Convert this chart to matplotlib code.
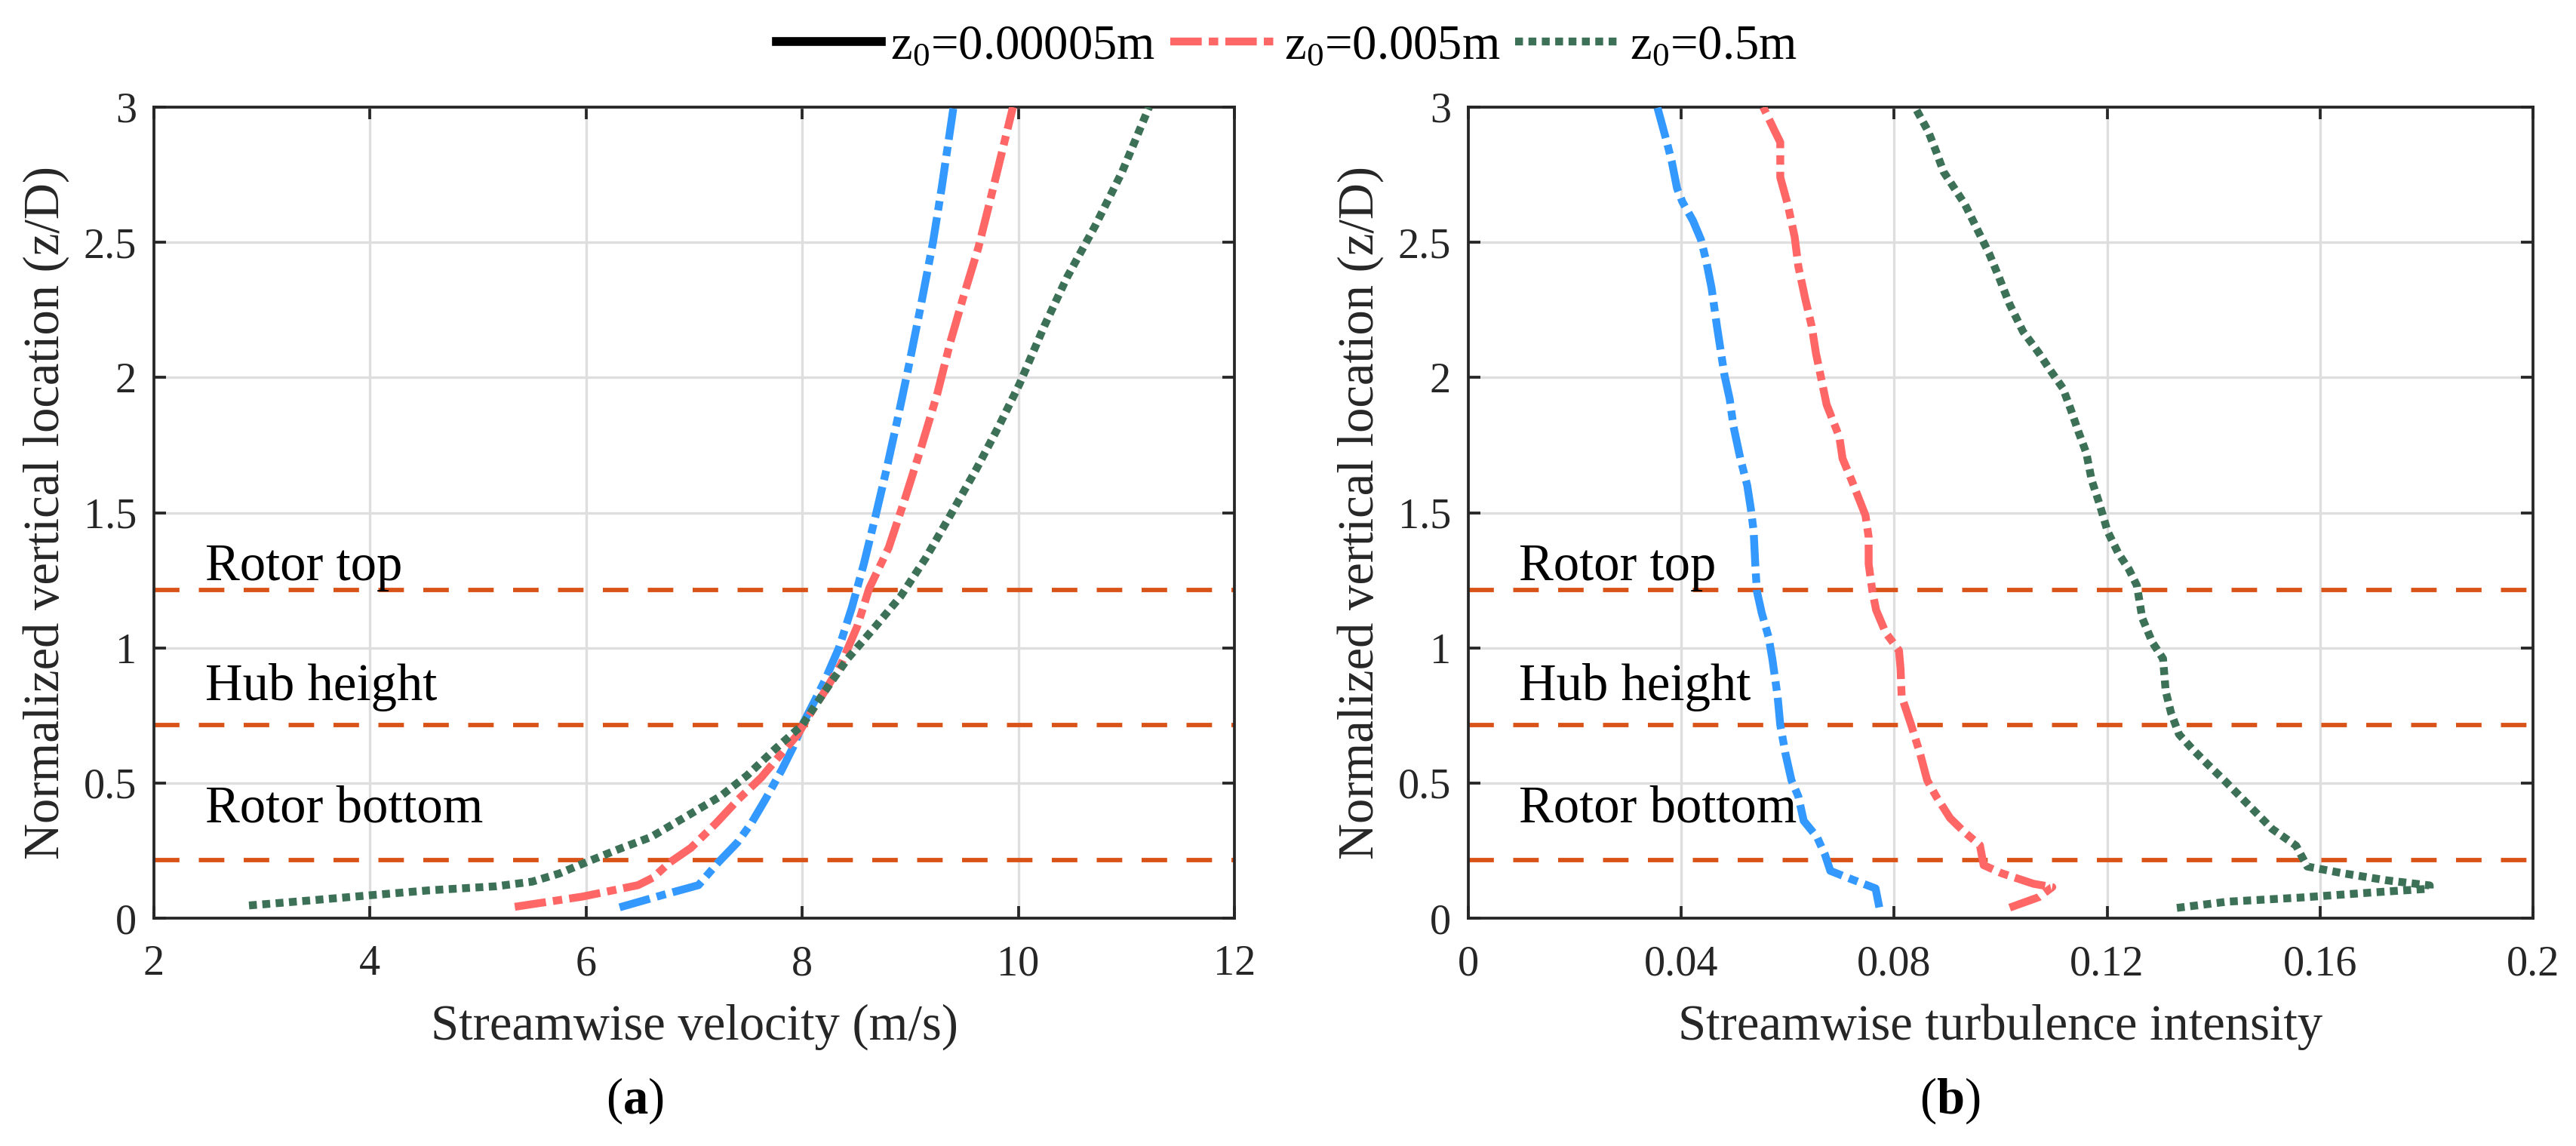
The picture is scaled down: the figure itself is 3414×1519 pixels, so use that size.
import matplotlib
matplotlib.use('Agg')
import matplotlib.pyplot as plt
from matplotlib.lines import Line2D

plt.rcParams['font.family'] = 'serif'
plt.rcParams['font.serif'] = ['Liberation Serif', 'Times New Roman', 'DejaVu Serif']
plt.rcParams['mathtext.fontset'] = 'custom'
plt.rcParams['mathtext.rm'] = 'Liberation Serif'
plt.rcParams['mathtext.bf'] = 'Liberation Serif:bold'
plt.rcParams['mathtext.it'] = 'Liberation Serif:italic'

# ---- data ----
LEGEND_LABELS = [r'$\mathrm{z_0}$=0.00005m', r'$\mathrm{z_0}$=0.005m', r'$\mathrm{z_0}$=0.5m']

# (a) streamwise velocity (m/s) vs z/D
vel_z1 = [0.04, 0.088, 0.122, 0.205, 0.28, 0.352, 0.44, 0.548, 0.636, 0.714, 0.80, 0.88, 1.0,
          1.15, 1.31, 1.49, 1.66, 1.86, 2.05, 2.27, 2.50, 2.70, 3.0]
vel_u1 = [6.31, 6.73, 7.04, 7.22, 7.40, 7.53, 7.66, 7.81, 7.92, 8.0, 8.11, 8.21, 8.34,
          8.46, 8.57, 8.68, 8.78, 8.89, 8.99, 9.10, 9.21, 9.29, 9.40]

vel_z2 = [0.042, 0.08, 0.122, 0.15, 0.205, 0.26, 0.35, 0.44, 0.52, 0.61, 0.68, 0.76, 0.84, 0.94,
          1.08, 1.22, 1.37, 1.55, 1.74, 1.94, 2.13, 2.31, 2.48, 2.64, 2.82, 3.0]
vel_u2 = [5.34, 5.97, 6.48, 6.62, 6.77, 6.97, 7.20, 7.41, 7.62, 7.81, 7.96, 8.08, 8.21, 8.36,
          8.51, 8.62, 8.80, 8.95, 9.10, 9.25, 9.37, 9.50, 9.63, 9.73, 9.84, 9.95]

vel_z3 = [0.047, 0.065, 0.085, 0.103, 0.118, 0.135, 0.165, 0.21, 0.255, 0.30, 0.37, 0.45, 0.528,
          0.626, 0.714, 0.84, 0.96, 1.08, 1.19, 1.33, 1.49, 1.66, 1.82, 1.975, 2.19, 2.37, 2.56,
          2.76, 3.0]
vel_u3 = [2.88, 3.43, 4.01, 4.55, 5.17, 5.50, 5.75, 6.02, 6.30, 6.60, 6.90, 7.24, 7.49,
          7.75, 8.0, 8.21, 8.42, 8.68, 8.91, 9.14, 9.37, 9.61, 9.82, 10.01, 10.24, 10.45, 10.71,
          10.96, 11.21]

# (b) streamwise turbulence intensity vs z/D
ti_z1 = [0.04, 0.11, 0.14, 0.175, 0.235, 0.30, 0.36, 0.45, 0.51, 0.606, 0.714, 0.82, 0.96, 1.04,
         1.13, 1.21, 1.31, 1.43, 1.51, 1.60, 1.70, 1.82, 1.92, 2.01, 2.19, 2.33, 2.43, 2.51,
         2.58, 2.65, 2.70, 2.80, 2.87, 3.0]
ti_i1 = [0.0772, 0.0765, 0.0725, 0.068, 0.067, 0.0655, 0.063, 0.062, 0.0607, 0.0596, 0.0586,
         0.0581, 0.0571, 0.0564, 0.0551, 0.0542, 0.0539, 0.0536, 0.0531, 0.0524, 0.0511, 0.0498,
         0.0491, 0.0481, 0.0467, 0.0457, 0.0447, 0.0437, 0.0422, 0.0402, 0.0392, 0.0382, 0.0373,
         0.0355]

ti_z2 = [0.039, 0.078, 0.115, 0.127, 0.166, 0.196, 0.27, 0.32, 0.37, 0.45, 0.51, 0.606, 0.714,
         0.82, 0.92, 0.99, 1.056, 1.14, 1.21, 1.31, 1.41, 1.49, 1.545, 1.62, 1.70, 1.78, 1.84,
         1.90, 1.995, 2.09, 2.19, 2.29, 2.41, 2.52, 2.64, 2.74, 2.87, 2.91, 3.0]
ti_i2 = [0.1017, 0.1072, 0.1097, 0.1062, 0.1002, 0.0968, 0.0961, 0.0931, 0.0905, 0.0879, 0.0862,
         0.0849, 0.0832, 0.0814, 0.0812, 0.0809, 0.0784, 0.0766, 0.0759, 0.0752, 0.0752, 0.0746,
         0.0735, 0.072, 0.0703, 0.0697, 0.0685, 0.0673, 0.0663, 0.0653, 0.0645, 0.0633, 0.062,
         0.0613, 0.0600, 0.0586, 0.0586, 0.0576, 0.0554]

ti_z3 = [0.038, 0.061, 0.076, 0.095, 0.109, 0.121, 0.14, 0.166, 0.191, 0.268, 0.33, 0.39, 0.45,
         0.51, 0.567, 0.626, 0.68, 0.76, 0.84, 0.96, 1.02, 1.11, 1.23, 1.29, 1.35, 1.43, 1.53,
         1.62, 1.72, 1.80, 1.88, 1.96, 2.03, 2.09, 2.17, 2.27, 2.37, 2.46, 2.54, 2.64, 2.70,
         2.76, 2.84, 2.91, 3.0]
ti_i3 = [0.1331, 0.1426, 0.1562, 0.1698, 0.1806, 0.1806, 0.1725, 0.1643, 0.1576, 0.1555, 0.151,
         0.148, 0.145, 0.142, 0.139, 0.136, 0.1335, 0.132, 0.131, 0.1305, 0.1285, 0.1266, 0.1256,
         0.1241, 0.1221, 0.1201, 0.1186, 0.1171, 0.1161, 0.1146, 0.1132, 0.1117, 0.1092, 0.1072,
         0.1042, 0.1017, 0.0997, 0.0978, 0.0958, 0.0933, 0.0913, 0.0893, 0.0878, 0.0864, 0.0839]

# rotor reference heights (z/D) and their labels
REF_HEIGHTS = [1.214, 0.714, 0.214]
REF_LABELS = ['Rotor top', 'Hub height', 'Rotor bottom']
REF_TEXT_Y = [1.25, 0.806, 0.356]

VEL_XTICKS = [2, 4, 6, 8, 10, 12]
TI_XTICKS = [0, 0.04, 0.08, 0.12, 0.16, 0.2]
TI_XTICKLABELS = ['0', '0.04', '0.08', '0.12', '0.16', '0.2']
YTICKS = [0, 0.5, 1, 1.5, 2, 2.5, 3]
YTICKLABELS = ['0', '0.5', '1', '1.5', '2', '2.5', '3']

# ---- styles ----
BLUE = '#3399ff'
RED = '#ff6666'
GREEN = '#3d7157'
ORANGE = '#d95319'
AXC = '#262626'
LW = 2.5
DASHDOT = (0, (4.0, 0.9, 1.2, 0.9))
DOTTED = (0, (1.0, 0.7))

W, H = 3414, 1519
fig = plt.figure(figsize=(W / 300, H / 300), dpi=300)
ax_a = fig.add_axes([204 / W, 1 - 1217 / H, 1432 / W, 1075 / H])
ax_b = fig.add_axes([1946 / W, 1 - 1217 / H, 1411 / W, 1075 / H])


def style_axes(ax):
    ax.set_ylim(0, 3)
    ax.set_yticks(YTICKS)
    ax.set_yticklabels(YTICKLABELS)
    ax.grid(True, color='#dedede', lw=0.8)
    ax.set_axisbelow(True)
    for sp in ax.spines.values():
        sp.set_color(AXC)
        sp.set_linewidth(0.9)
    ax.tick_params(direction='in', length=3.8, width=0.9, color=AXC, labelcolor=AXC,
                   labelsize=13.5, top=True, right=True)
    ax.tick_params(axis='x', pad=8.5)
    ax.tick_params(axis='y', pad=5.5)
    for z, lab, ty in zip(REF_HEIGHTS, REF_LABELS, REF_TEXT_Y):
        ax.axhline(z, color=ORANGE, lw=1.4, ls=(0, (5.8, 4.4)), zorder=2)
        ax.text(0.0475, ty, lab, transform=ax.get_yaxis_transform(), fontsize=16.5,
                color='black', va='baseline', ha='left', zorder=4)
    ax.set_ylabel('Normalized vertical location (z/D)', fontsize=16, color=AXC)


# panel (a)
ax_a.plot(vel_u1, vel_z1, color=BLUE, lw=LW, ls=DASHDOT, zorder=3)
ax_a.plot(vel_u2, vel_z2, color=RED, lw=LW, ls=DASHDOT, zorder=3)
ax_a.plot(vel_u3, vel_z3, color=GREEN, lw=LW, ls=DOTTED, zorder=3)
ax_a.set_xlim(2, 12)
ax_a.set_xticks(VEL_XTICKS)
style_axes(ax_a)
ax_a.set_xlabel('Streamwise velocity (m/s)', fontsize=16, color=AXC)

# panel (b)
ax_b.plot(ti_i1, ti_z1, color=BLUE, lw=LW, ls=DASHDOT, zorder=3)
ax_b.plot(ti_i2, ti_z2, color=RED, lw=LW, ls=DASHDOT, zorder=3)
ax_b.plot(ti_i3, ti_z3, color=GREEN, lw=LW, ls=DOTTED, zorder=3)
ax_b.set_xlim(0, 0.2)
ax_b.set_xticks(TI_XTICKS)
ax_b.set_xticklabels(TI_XTICKLABELS)
style_axes(ax_b)
ax_b.set_xlabel('Streamwise turbulence intensity', fontsize=16, color=AXC)

# label positions in pixels converted to axes fractions
for ax in (ax_a, ax_b):
    bw = ax.get_position().width * W
    ax.yaxis.label.set_va('baseline')
    ax.yaxis.set_label_coords(-126 / bw, 0.5)
    ax.xaxis.label.set_va('baseline')
    ax.xaxis.set_label_coords(0.5, -161 / 1075)

fig.text(841 / W, 1 - 1476 / H, r'($\mathbf{a}$)', fontsize=16, ha='center', va='baseline')
fig.text(2584 / W, 1 - 1476 / H, r'($\mathbf{b}$)', fontsize=16, ha='center', va='baseline')

# legend (first entry is drawn black/solid in the original)
handles = [Line2D([], [], color='black', lw=2.8, ls='-'),
           Line2D([], [], color=RED, lw=LW, ls=DASHDOT),
           Line2D([], [], color=GREEN, lw=LW, ls=DOTTED)]
fig.legend(handles, LEGEND_LABELS, loc='center', bbox_to_anchor=(1705 / W, 1 - 62 / H), ncol=3,
           frameon=False, fontsize=15.5, handlelength=2.15, handletextpad=0.19, columnspacing=0.31,
           borderaxespad=0, borderpad=0)

fig.savefig('out.png', dpi=300)
